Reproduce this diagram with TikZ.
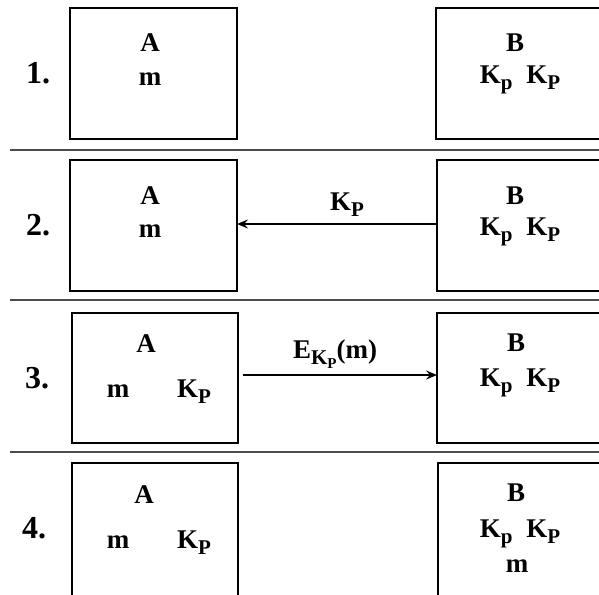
\documentclass[tikz,border=0pt]{standalone}
\usepackage{fontspec}
\setmainfont{Liberation Serif}
\usetikzlibrary{arrows.meta}
\newcommand{\keyp}[1]{K\raisebox{-6.5pt}{\fontsize{21}{21}\selectfont #1}}
\newcommand{\encm}{E\raisebox{-6.5pt}{\fontsize{21}{21}\selectfont K\raisebox{-4pt}{\fontsize{15}{15}\selectfont P}}(m)}
\begin{document}
\begin{tikzpicture}[x=1pt,y=-1pt,
  box/.style={draw, line width=2.6pt, inner sep=0pt, outer sep=0pt, anchor=north west,
              minimum width=#1, minimum height=131pt},
  box/.default=167pt,
  lbl/.style={font=\fontsize{27}{27}\selectfont\bfseries, anchor=base, inner sep=0pt},
  num/.style={font=\fontsize{32}{32}\selectfont\bfseries, anchor=base, inner sep=0pt},
  sep/.style={draw=black!70, line width=2pt},
  arr/.style={line width=2.5pt, -{Stealth[length=11pt,width=9pt,inset=4pt]}}]
\useasboundingbox (0,0) rectangle (599,594);
\clip (0,0) rectangle (599,594);

% separators
\draw[sep] (10,150) -- (610,150);
\draw[sep] (10,300) -- (610,300);
\draw[sep] (10,452) -- (610,452);

% row 1
\node[box] (a1) at (70,8) {};
\node[box=180pt] (b1) at (436,8) {};
\node[num] (n1) at (38,83) {1.};
\node[lbl] (a1t) at (150,52) {A};
\node[lbl] (a1m) at (150,85) {m};
\node[lbl] (b1t) at (515,52) {B};
\node[lbl] (b1k) at (520,83) {\keyp{p}\hspace{14pt}\keyp{P}};

% row 2
\node[box] (a2) at (70,160) {};
\node[box=180pt] (b2) at (437,160) {};
\node[num] (n2) at (38,235) {2.};
\node[lbl] (a2t) at (150,204) {A};
\node[lbl] (a2m) at (150,237) {m};
\node[lbl] (b2t) at (515,204) {B};
\node[lbl] (b2k) at (520,235) {\keyp{p}\hspace{14pt}\keyp{P}};
\node[lbl] (l2) at (347,210) {\keyp{P}};
\draw[arr] ([yshift=1.5pt]b2.west) -- ([yshift=1.5pt]a2.east);

% row 3
\node[box=166pt,minimum height=130pt] (a3) at (72,313) {};
\node[box=180pt,minimum height=130pt] (b3) at (437,313) {};
\node[num] (n3) at (37,388) {3.};
\node[lbl] (a3t) at (146,352) {A};
\node[lbl] (a3m) at (118,397) {m};
\node[lbl] (a3k) at (194,397) {\keyp{P}};
\node[lbl] (b3t) at (516,351) {B};
\node[lbl] (b3k) at (520,386) {\keyp{p}\hspace{14pt}\keyp{P}};
\node[lbl] (l3) at (335,358) {\encm};
\draw[arr, shorten <=5pt] ([yshift=3pt]a3.east) -- ([yshift=3pt]b3.west);

% row 4
\node[box=166pt,minimum height=150pt] (a4) at (72,463) {};
\node[box=180pt,minimum height=150pt] (b4) at (438,463) {};
\node[num] (n4) at (34,538) {4.};
\node[lbl] (a4t) at (144,503) {A};
\node[lbl] (a4m) at (118,548) {m};
\node[lbl] (a4k) at (194,548) {\keyp{P}};
\node[lbl] (b4t) at (516,501) {B};
\node[lbl] (b4k) at (520,537) {\keyp{p}\hspace{14pt}\keyp{P}};
\node[lbl] (b4m) at (517,572) {m};
\end{tikzpicture}
\end{document}
